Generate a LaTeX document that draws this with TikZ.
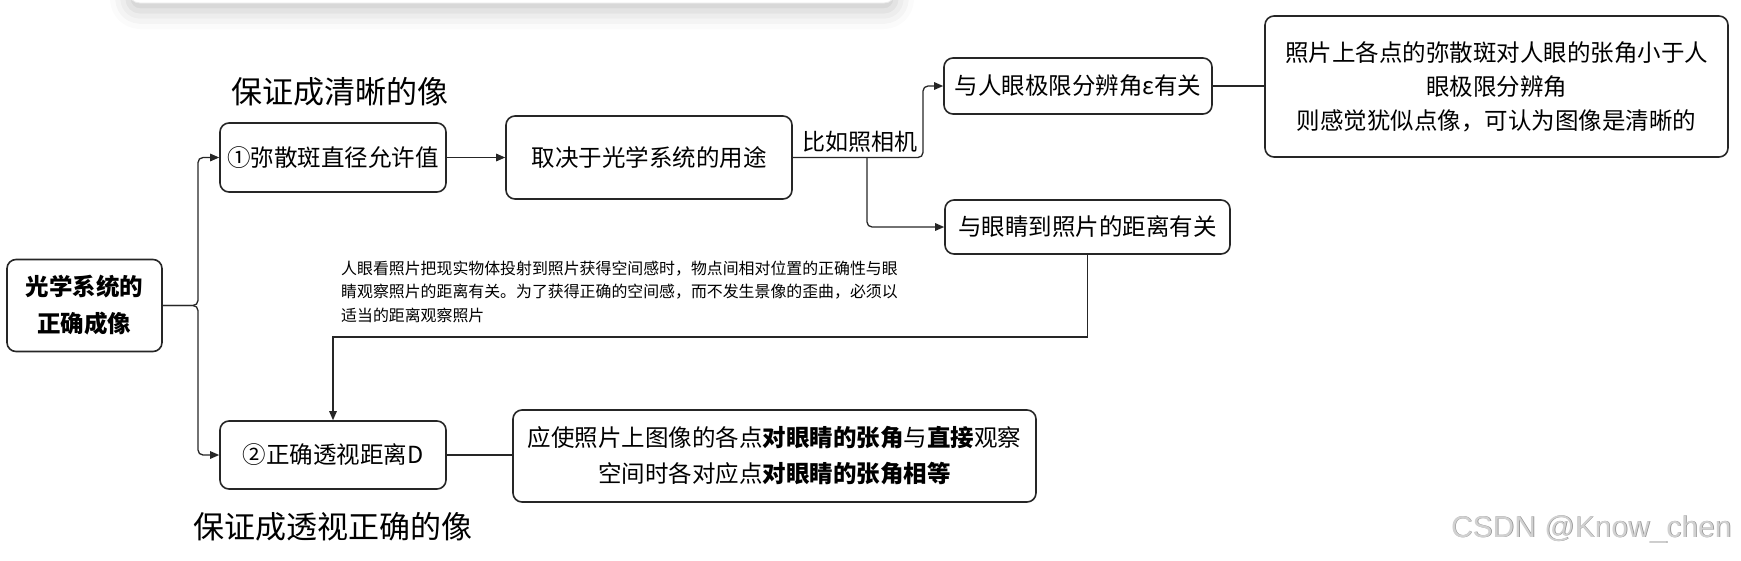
\documentclass[tikz,border=0pt]{standalone}
\usepackage{fontspec}
\setmainfont{Noto Sans CJK SC}
\newfontfamily\wmfont{Liberation Sans}
\usetikzlibrary{arrows.meta,shadows.blur}
\begin{document}
\begin{tikzpicture}[x=1pt,y=-1pt,
  box/.style={draw=black!85, line width=1.6pt, rounded corners=9pt, inner sep=0pt, align=center, font=\fontsize{23.5}{34}\selectfont},
  conn/.style={draw=black!85, line width=1.3pt, rounded corners=5pt},
  arr/.style={conn, -{Triangle[length=9pt,width=7.5pt]}},
  big/.style={font=\fontsize{31}{36}\selectfont, inner sep=0pt},
  lbl/.style={font=\fontsize{23}{28}\selectfont, inner sep=0pt}
]
\useasboundingbox (0,0) rectangle (1741,560);
% top card with shadow
\begin{scope}
\clip (0,0) rectangle (1741,560);
\node[fill=white, draw=black!8, line width=0.8pt, minimum width=768pt, minimum height=40pt, rounded corners=12pt,
  blur shadow={shadow xshift=0pt, shadow yshift=-8pt, shadow blur radius=18pt, shadow opacity=22}] (card) at (512,-17) {};
\end{scope}

% boxes
\node[box, minimum width=155pt, minimum height=92pt, font=\fontsize{23.5}{37}\selectfont\bfseries] (root) at (84.5,305.5) {光学系统的\\正确成像};
\node[box, minimum width=226pt, minimum height=69pt] (b1) at (333,157.5) {①弥散斑直径允许值};
\node[box, minimum width=286pt, minimum height=83pt] (b2) at (649,157.5) {取决于光学系统的用途};
\node[box, minimum width=268pt, minimum height=56pt] (b3) at (1078,86) {与人眼极限分辨角ε有关};
\node[box, minimum width=463pt, minimum height=141pt] (b5) at (1496.5,86.5) {照片上各点的弥散斑对人眼的张角小于人\\眼极限分辨角\\则感觉犹似点像，可认为图像是清晰的};
\node[box, minimum width=285pt, minimum height=54pt] (b4) at (1087.5,227) {与眼睛到照片的距离有关};
\node[box, minimum width=226pt, minimum height=68pt] (b6) at (333,455) {②正确透视距离D};
\node[box, minimum width=523pt, minimum height=92pt, font=\fontsize{23.5}{36}\selectfont] (b7) at (774.5,456) {应使照片上图像的各点\textbf{对眼睛的张角}与\textbf{直接}观察\\空间时各对应点\textbf{对眼睛的张角相等}};

% titles and labels
\node[big] (t1) at (340,92) {保证成清晰的像};
\node[big] (t2) at (333,527) {保证成透视正确的像};
\node[lbl] (l1) at (860,142) {比如照相机};
\node[anchor=west, align=left, inner sep=0pt, font=\fontsize{15.9}{23.5}\selectfont] (para) at (341,291.5)
  {人眼看照片把现实物体投射到照片获得空间感时，物点间相对位置的正确性与眼\\睛观察照片的距离有关。为了获得正确的空间感，而不发生景像的歪曲，必须以\\适当的距离观察照片};

% connectors
\coordinate (tk) at (198,305.5);
\draw[arr] (root.east) -- (tk) |- (b1.west);
\draw[arr] (root.east) -- (tk) |- (b6.west);
\draw[arr] (b1.east) -- (b2.west);
\coordinate (j1) at (923,157.5);
\coordinate (j2) at (867,157.5);
\draw[arr] (b2.east) -- (j1) |- (b3.west);
\draw[arr] (j2) |- (b4.west);
\draw[conn] (b3.east) -- (b5.west |- b3.east);
\coordinate (j3) at (1087.5,337);
\draw[arr, rounded corners=0pt] (b4.south) -- (j3) -| (b6.north);
\draw[conn] (b6.east) -- (b7.west |- b6.east);

% watermark
\node[font=\wmfont\fontsize{30}{34}\selectfont, text=black!45, inner sep=0pt] (wms) at (1592,530) {CSDN @Know\_chen};
\node[font=\wmfont\fontsize{30}{34}\selectfont, text=black!18, inner sep=0pt] (wm) at (1591.3,529.3) {CSDN @Know\_chen};
\end{tikzpicture}
\end{document}
